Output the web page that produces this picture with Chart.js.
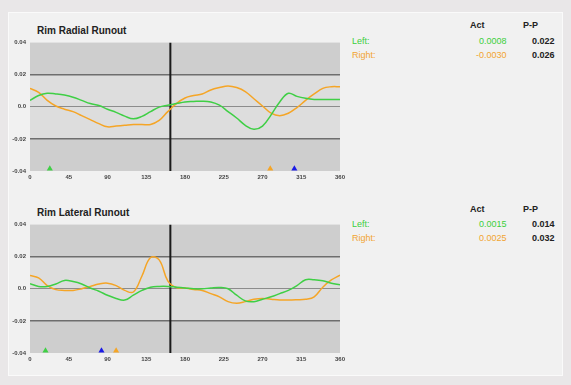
<!DOCTYPE html>
<html>
<head>
<meta charset="utf-8">
<script src="https://cdn.jsdelivr.net/npm/chart.js@4.4.1/dist/chart.umd.min.js"></script>
<style>
  body { margin: 0; width: 571px; height: 385px; background: #e9e7e8; font-family: "Liberation Sans", Arial, sans-serif; overflow: hidden; }
  #frame { position: absolute; left: 8px; top: 12px; width: 553px; height: 362px; background: #f1f1f1; border: 1px solid #fafafa; }
  .cv { position: absolute; left: 0; }
  .title { position: absolute; left: 37px; font-size: 10px; font-weight: bold; color: #222; }
  .txt { position: absolute; font-size: 9px; white-space: nowrap; }
  .hd { font-weight: bold; color: #222; }
  .pp { font-weight: bold; color: #222; }
  .g { color: #3ccf3c; }
  .o { color: #f2a430; }
</style>
</head>
<body>
<div id="frame"></div>

<div class="title" style="top:25px">Rim Radial Runout</div>
<div class="title" style="top:207px">Rim Lateral Runout</div>

<div class="txt hd" style="left:470px;top:20px">Act</div>
<div class="txt hd" style="left:523px;top:20px">P-P</div>
<div class="txt g" style="left:352px;top:36px">Left:</div>
<div class="txt o" style="left:352px;top:50px">Right:</div>
<div class="txt g" style="left:479px;top:36px">0.0008</div>
<div class="txt o" style="left:476px;top:50px">-0.0030</div>
<div class="txt pp" style="left:532px;top:36px">0.022</div>
<div class="txt pp" style="left:532px;top:50px">0.026</div>

<div class="txt hd" style="left:470px;top:204px">Act</div>
<div class="txt hd" style="left:523px;top:204px">P-P</div>
<div class="txt g" style="left:352px;top:219px">Left:</div>
<div class="txt o" style="left:352px;top:233px">Right:</div>
<div class="txt g" style="left:479px;top:219px">0.0015</div>
<div class="txt o" style="left:479px;top:233px">0.0025</div>
<div class="txt pp" style="left:532px;top:219px">0.014</div>
<div class="txt pp" style="left:532px;top:233px">0.032</div>

<canvas id="radial" class="cv" style="top:35px" width="348" height="150"></canvas>
<canvas id="lateral" class="cv" style="top:217px" width="348" height="150"></canvas>

<script>
// angle in degrees, one value every 10
const angles = [0,10,20,30,40,50,60,70,80,90,100,110,120,130,140,150,160,170,180,
  190,200,210,220,230,240,250,260,270,280,290,300,310,320,330,340,350,360]

const radialLeft = [0.004,0.007,0.0084,0.008,0.0073,0.006,0.004,0.002,0.0008,-0.0015,
  -0.0035,-0.0058,-0.0075,-0.006,-0.003,-0.0002,0.001,0.002,0.003,0.0033,0.0035,0.003,
  0.001,-0.003,-0.007,-0.0115,-0.014,-0.012,-0.005,0.003,0.0084,0.0065,0.0053,0.0046,
  0.0046,0.0046,0.0045]
const radialRight = [0.0115,0.009,0.004,0.0005,-0.0015,-0.003,-0.0055,-0.008,-0.0105,
  -0.0125,-0.012,-0.0115,-0.011,-0.011,-0.011,-0.0085,-0.003,0.002,0.0055,0.007,0.008,
  0.0105,0.012,0.013,0.012,0.0095,0.005,0.0005,-0.004,-0.0055,-0.004,-0.0005,0.004,
  0.008,0.0115,0.0125,0.0125]

const lateralLeft = [0.0032,0.0015,0.0015,0.003,0.0052,0.0045,0.003,0.0005,-0.0015,
  -0.004,-0.006,-0.007,-0.004,-0.001,0.001,0.0015,0.0015,0.001,0.0005,0.0,0.0,0.0005,
  0.0008,0.0,-0.004,-0.0075,-0.008,-0.0065,-0.005,-0.003,-0.001,0.002,0.0056,0.0056,
  0.005,0.0035,0.0025]
const lateralRight = [0.0083,0.0068,0.002,-0.0005,-0.001,-0.001,0.0,0.0015,0.003,0.0035,
  0.002,-0.001,-0.002,0.008,0.0195,0.018,0.005,0.0008,0.0005,-0.0005,-0.001,-0.003,-0.005,
  -0.008,-0.009,-0.008,-0.0065,-0.006,-0.0065,-0.007,-0.007,-0.0068,-0.0065,-0.005,
  0.001,0.0055,0.0085]

// cursor line and little triangle markers on the bottom edge
const cursorAngle = 163
const markerLevel = -0.0386
const radialMarkers = { left: [23], right: [279], blue: [307] }
const lateralMarkers = { left: [18], right: [100], blue: [83] }

const xTicks = [0,45,90,135,180,225,270,315,360]
const yTickLabels = { "0.04": "0.04", "0.02": "0.02", "0": "0.0", "-0.02": "-0.02", "-0.04": "-0.04" }

const GREEN = "#3fcf45"
const ORANGE = "#f5a526"
const BLUE = "#1a1ae6"

const bandPlugin = {
  id: "bands",
  beforeDraw(chart) {
    const { ctx, chartArea: a, scales } = chart
    const y = scales.y
    const y1 = y.getPixelForValue(0.02)
    const y2 = y.getPixelForValue(-0.02)
    ctx.save()
    ctx.fillStyle = "#cecece"
    ctx.fillRect(a.left, a.top, a.right - a.left, y1 - a.top)
    ctx.fillRect(a.left, y2, a.right - a.left, a.bottom - y2)
    ctx.fillStyle = "#dddddd"
    ctx.fillRect(a.left, y1, a.right - a.left, y2 - y1)
    ctx.restore()
  }
}

function pts(vals) {
  return angles.map((a, i) => ({ x: a, y: vals[i] }))
}

function markerSet(list, color) {
  return {
    type: "scatter",
    data: list.map(a => ({ x: a, y: markerLevel })),
    pointStyle: "triangle",
    pointRadius: 3.5,
    backgroundColor: color,
    borderColor: color,
    borderWidth: 0,
    clip: false
  }
}

function makeChart(id, left, right, markers) {
  const ctx = document.getElementById(id).getContext("2d")
  return new Chart(ctx, {
    type: "line",
    data: {
      datasets: [
        { data: pts(left), borderColor: GREEN, borderWidth: 1.5, pointRadius: 0, tension: 0.4 },
        { data: pts(right), borderColor: ORANGE, borderWidth: 1.5, pointRadius: 0, tension: 0.4 },
        { data: [{ x: cursorAngle, y: -0.04 }, { x: cursorAngle, y: 0.04 }], borderColor: "#1a1a1a", borderWidth: 2, pointRadius: 0 },
        markerSet(markers.left, GREEN),
        markerSet(markers.right, ORANGE),
        markerSet(markers.blue, BLUE)
      ]
    },
    options: {
      responsive: false,
      animation: false,
      events: [],
      layout: { padding: { top: 7, right: 5, left: 0, bottom: 0 } },
      plugins: { legend: { display: false }, tooltip: { enabled: false } },
      scales: {
        x: {
          type: "linear",
          min: 0,
          max: 360,
          afterBuildTicks: s => { s.ticks = xTicks.map(v => ({ value: v })) },
          afterFit: s => { s.height = 14 },
          grid: { display: false, drawTicks: false },
          border: { display: false },
          ticks: { color: "#444", font: { size: 6, weight: "bold", family: "Liberation Sans" }, padding: 3, maxRotation: 0 }
        },
        y: {
          min: -0.04,
          max: 0.04,
          afterBuildTicks: s => { s.ticks = [-0.04, -0.02, 0, 0.02, 0.04].map(v => ({ value: v })) },
          afterFit: s => { s.width = 30 },
          grid: {
            color: c => (Math.abs(c.tick.value) > 0.03 ? "rgba(0,0,0,0)" : (c.tick.value === 0 ? "#8c8c8c" : "#6e6e6e")),
            lineWidth: c => (c.tick.value === 0 ? 1 : 1.5),
            drawTicks: false
          },
          border: { display: false },
          ticks: {
            color: "#444",
            font: { size: 6, weight: "bold", family: "Liberation Sans" },
            padding: 4,
            callback: v => yTickLabels[String(Math.round(v * 100) / 100)]
          }
        }
      }
    },
    plugins: [bandPlugin]
  })
}

makeChart("radial", radialLeft, radialRight, radialMarkers)
makeChart("lateral", lateralLeft, lateralRight, lateralMarkers)
</script>
</body>
</html>
